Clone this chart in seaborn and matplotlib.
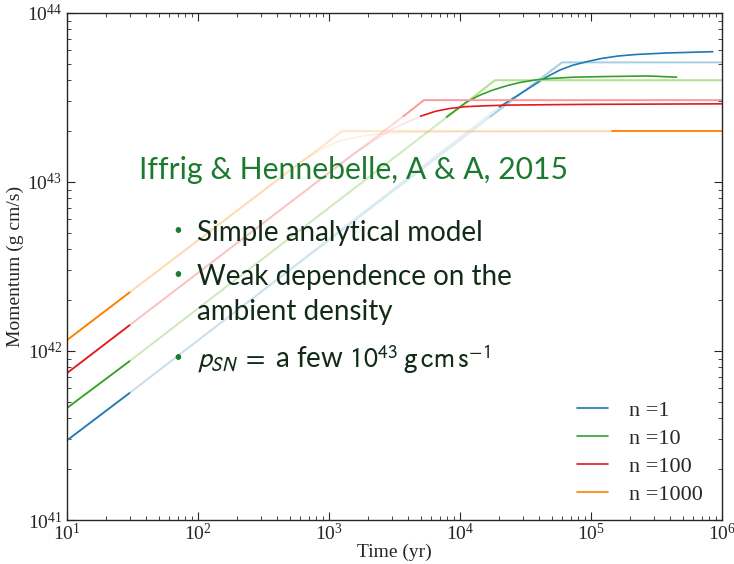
import matplotlib
matplotlib.use("Agg")
import matplotlib.pyplot as plt
from matplotlib.lines import Line2D
from matplotlib.ticker import LogLocator, NullFormatter
import numpy as np
import pandas as pd
import seaborn as sns

# densities and colours (Paired palette: light / dark pairs)
densities = ["1", "10", "100", "1000"]
light_colors = ["#a6cee3", "#b2df8a", "#fb9a99", "#fdbf6f"]
dark_colors = ["#1f78b4", "#33a02c", "#e31a1c", "#ff7f00"]

# analytic model knots (yr, g cm/s)
an_t = {
    "1":    [10, 30, 1.7e4, 6.0e4, 1e6],
    "10":   [10, 30, 7.9e3, 1.85e4, 1e6],
    "100":  [10, 30, 3.7e3, 5.3e3, 1e6],
    "1000": [10, 30, 1.26e3, 1.45e5, 1e6],
}
an_p = {
    "1":    [2.96e41, 5.64e41, 2.43e43, 5.1e43, 5.1e43],
    "10":   [4.6e41, 8.7e41, 2.4e43, 4.0e43, 4.0e43],
    "100":  [7.4e41, 1.42e42, 2.45e43, 3.05e43, 3.05e43],
    "1000": [1.16e42, 2.22e42, 2.0e43, 2.0e43, 2.0e43],
}

# simulation curves
sim_t = {
    "1":    [10, 30, 2.0e4, 3.2e4, 4.5e4, 5.8e4, 7.2e4, 9.3e4, 1.2e5, 1.6e5, 2.2e5, 3.8e5, 8.5e5],
    "10":   [10, 30, 7.9e3, 9.5e3, 1.12e4, 1.4e4, 1.78e4, 2.3e4, 2.87e4, 3.8e4, 4.9e4, 7.5e4,
             1.17e5, 2.7e5, 4.5e5],
    "100":  [10, 30, 1.5e3, 3e3, 5e3, 6.5e3, 8.3e3, 1.1e4, 1.5e4, 2.3e4, 3.6e4, 1e5, 1e6],
    "1000": [10, 30, 600, 900, 1.2e3, 1.8e3, 2.6e3, 4e3, 1e4, 1.45e5, 1e6],
}
sim_p = {
    "1":    [2.96e41, 5.64e41, 2.78e43, 3.5e43, 4.15e43, 4.6e43, 4.9e43, 5.15e43, 5.38e43,
             5.56e43, 5.68e43, 5.8e43, 5.9e43],
    "10":   [4.6e41, 8.7e41, 2.43e43, 2.7e43, 2.97e43, 3.25e43, 3.5e43, 3.72e43, 3.88e43,
             4.02e43, 4.1e43, 4.17e43, 4.2e43, 4.24e43, 4.17e43],
    "100":  [7.4e41, 1.42e42, 1.45e43, 2.05e43, 2.45e43, 2.62e43, 2.72e43, 2.79e43, 2.82e43,
             2.85e43, 2.86e43, 2.88e43, 2.9e43],
    "1000": [1.16e42, 2.22e42, 1.31e43, 1.58e43, 1.75e43, 1.87e43, 1.94e43, 1.97e43, 1.98e43,
             1.99e43, 1.99e43],
}

# time windows where the curves are drawn faded
fade_start = 30
an_fade_end = {"1": 1.7e4, "10": 7.9e3, "100": 3.7e3, "1000": 1.45e5}
sim_fade_end = {"1": 2.0e4, "10": 7.9e3, "100": 5e3, "1000": 1.45e5}

sns.set_style("ticks")
plt.rcParams["font.family"] = ["Liberation Serif", "DejaVu Serif"]
plt.rcParams["mathtext.fontset"] = "stix"

fig = plt.figure(figsize=(7.34, 5.64), dpi=100)
ax = fig.add_axes([0.0913, 0.078, 0.8924, 0.899])
ax.set_xscale("log")
ax.set_yscale("log")


def draw(t, p, t_end, color, faded_alpha, lw):
    df = pd.DataFrame({"t": t, "p": p})
    early = df[df.t <= fade_start]
    mid = df[(df.t >= fade_start) & (df.t <= t_end)]
    late = df[df.t >= t_end]
    for part, a in [(early, 1.0), (mid, faded_alpha), (late, 1.0)]:
        if len(part) > 1:
            sns.lineplot(data=part, x="t", y="p", ax=ax, color=color, alpha=a,
                         lw=lw, estimator=None, sort=False, legend=False)


for n, lc, dc in zip(densities, light_colors, dark_colors):
    draw(an_t[n], an_p[n], an_fade_end[n], lc, 0.4, 1.4)
    draw(sim_t[n], sim_p[n], sim_fade_end[n], dc, 0.12, 1.2)

ax.set_xlim(10, 1e6)
ax.set_ylim(1e41, 1e44)
ax.set_xlabel("Time (yr)", fontsize=14, labelpad=0)
ax.set_ylabel("Momentum (g cm/s)", fontsize=14, labelpad=2)
ax.xaxis.set_minor_locator(LogLocator(base=10, subs=np.arange(2, 10), numticks=20))
ax.yaxis.set_minor_locator(LogLocator(base=10, subs=np.arange(2, 10), numticks=20))
ax.xaxis.set_minor_formatter(NullFormatter())
ax.yaxis.set_minor_formatter(NullFormatter())
ax.tick_params(which="both", direction="in", top=True, right=True, labelsize=14)
ax.tick_params(which="major", length=6, width=0.8)
ax.tick_params(which="minor", length=3, width=0.6)
ax.tick_params(axis="x", pad=2)
for s in ax.spines.values():
    s.set_linewidth(1.0)

handles = [Line2D([], [], color=c, lw=1.2) for c in dark_colors]
ax.legend(handles, [f"n ={n}" for n in densities], loc="lower right",
          frameon=False, fontsize=16, handlelength=1.4, handletextpad=0.95,
          labelspacing=0.33, borderpad=0, borderaxespad=0,
          bbox_to_anchor=(0.971, 0.03))

# annotation from the slide
title_green = "#1c7a2f"
body = "#112b17"
sans = ["Lato", "DejaVu Sans"]
ax.text(0.11, 0.6726, "Iffrig & Hennebelle, A & A, 2015", transform=ax.transAxes,
        fontsize=21.7, color=title_green, family=sans, va="baseline")
rows = [(0.5503, "Simple analytical model", True),
        (0.4635, "Weak dependence on the", True),
        (0.3945, "ambient density", False),
        (0.2998, r"$p_{SN}\;=$ a few $10^{43}\;\mathrm{g\,cm\,s^{-1}}$", True)]
for y, txt, bullet in rows:
    if bullet:
        ax.text(0.162, y + 0.012, "\u2022", transform=ax.transAxes, fontsize=11,
                color=title_green, family=sans, va="baseline")
    ax.text(0.198, y, txt, transform=ax.transAxes, fontsize=20, color=body,
            family=sans, va="baseline", math_fontfamily="stixsans")

fig.savefig("out.png", dpi=100)
